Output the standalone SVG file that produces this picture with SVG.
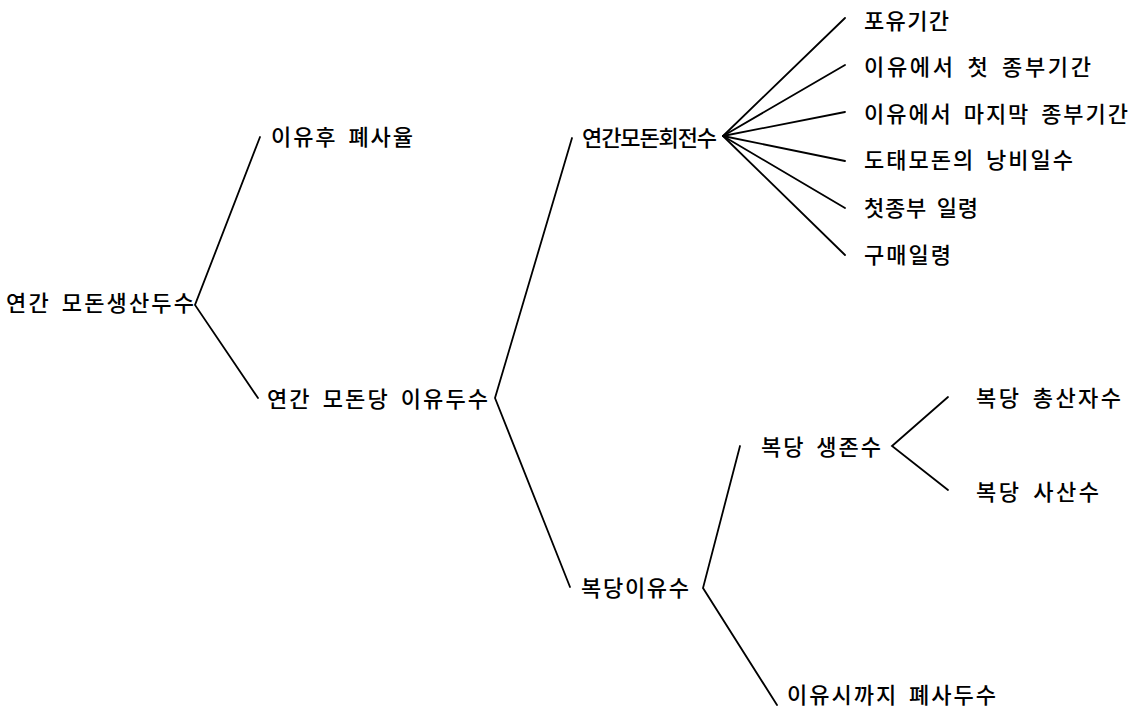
<svg xmlns="http://www.w3.org/2000/svg" width="1140" height="708" viewBox="0 0 1140 708">
<style>
  text { font-family: "Noto Sans CJK KR", "Noto Sans", sans-serif; font-size: 22px; font-weight: 500; fill: #000; word-spacing: 4px; }
  .c { fill: none; stroke: #000; stroke-width: 1.8; stroke-linecap: round; stroke-linejoin: miter; }
</style>
<rect width="1140" height="708" fill="#fff"/>
<g id="connectors">
  <polyline class="c" points="260,137 195,305 258,398"/>
  <polyline class="c" points="572,138 495,398 570,587"/>
  <line class="c" x1="723" y1="136" x2="845" y2="18"/>
  <line class="c" x1="723" y1="136" x2="845" y2="65"/>
  <line class="c" x1="723" y1="136" x2="845" y2="112"/>
  <line class="c" x1="723" y1="136" x2="845" y2="161"/>
  <line class="c" x1="723" y1="136" x2="845" y2="208"/>
  <line class="c" x1="723" y1="136" x2="845" y2="255"/>
  <polyline class="c" points="740,446 703,588 777,705"/>
  <polyline class="c" points="948,397 892,446 948,490"/>
</g>
<g id="n-root"><text x="6" y="311" textLength="188" lengthAdjust="spacing">연간 모돈생산두수</text></g>
<g id="n-mortality"><text x="271" y="145" textLength="142" lengthAdjust="spacing">이유후 폐사율</text></g>
<g id="n-weaned"><text x="267" y="407" textLength="221" lengthAdjust="spacing">연간 모돈당 이유두수</text></g>
<g id="n-turnover"><text x="582" y="146" textLength="135" lengthAdjust="spacing">연간모돈회전수</text></g>
<g id="n-lactation"><text x="864" y="29" textLength="85" lengthAdjust="spacing">포유기간</text></g>
<g id="n-first-mating"><text x="864" y="75" textLength="227" lengthAdjust="spacing">이유에서 첫 종부기간</text></g>
<g id="n-last-mating"><text x="864" y="122" textLength="264" lengthAdjust="spacing">이유에서 마지막 종부기간</text></g>
<g id="n-culled"><text x="864" y="168" textLength="209" lengthAdjust="spacing">도태모돈의 낭비일수</text></g>
<g id="n-first-age"><text x="864" y="216" textLength="114" lengthAdjust="spacing">첫종부 일령</text></g>
<g id="n-purchase-age"><text x="864" y="263" textLength="87" lengthAdjust="spacing">구매일령</text></g>
<g id="n-per-litter"><text x="581" y="596" textLength="108" lengthAdjust="spacing">복당이유수</text></g>
<g id="n-alive"><text x="761" y="455" textLength="120" lengthAdjust="spacing">복당 생존수</text></g>
<g id="n-total-born"><text x="976" y="406" textLength="145" lengthAdjust="spacing">복당 총산자수</text></g>
<g id="n-stillborn"><text x="976" y="500" textLength="123" lengthAdjust="spacing">복당 사산수</text></g>
<g id="n-preweaning-deaths"><text x="787" y="703" textLength="209" lengthAdjust="spacing">이유시까지 폐사두수</text></g>
</svg>
